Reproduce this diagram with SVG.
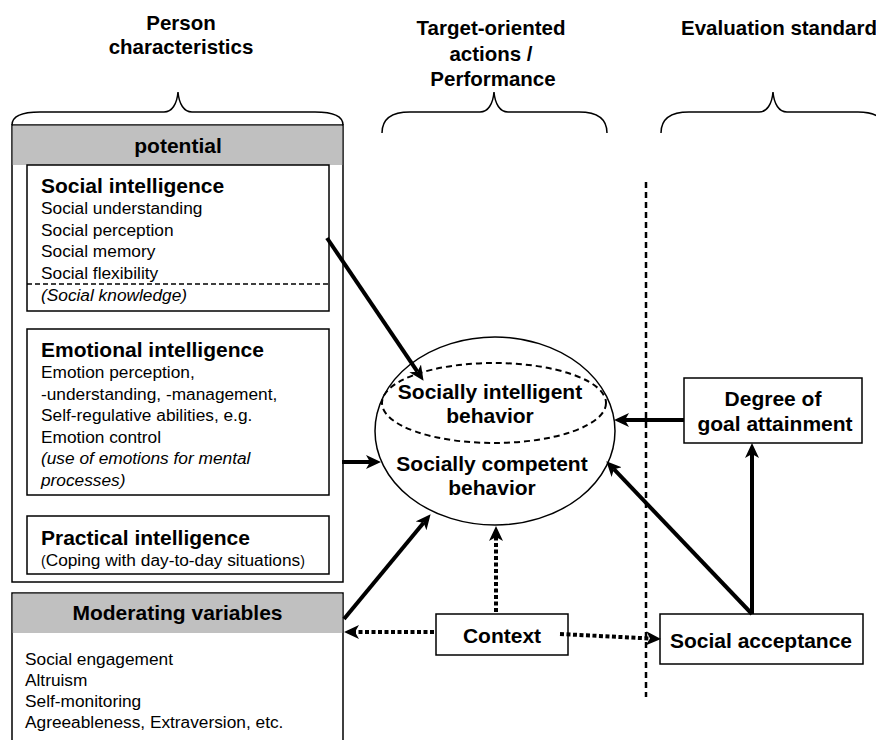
<svg xmlns="http://www.w3.org/2000/svg" width="876" height="740" viewBox="0 0 876 740">
<defs>
<style>
text{font-family:"Liberation Sans",Arial,sans-serif;fill:#000}
.title{font-size:20.5px;font-weight:bold;text-anchor:middle}
.hd{font-size:21px;font-weight:bold}
.hdc{font-size:21px;font-weight:bold;text-anchor:middle}
.bd{font-size:17.3px}
.it{font-style:italic}
.box{fill:#fff;stroke:#000;stroke-width:1.5}
.gray{fill:#c0c0c0;stroke:none}
.brace{fill:none;stroke:#000;stroke-width:1.5}
.arr{fill:none;stroke:#000;stroke-width:4;marker-end:url(#ah)}
.dot{fill:none;stroke:#000;stroke-width:4;stroke-dasharray:4 2.5;marker-end:url(#ah)}
</style>
<marker id="ah" markerUnits="userSpaceOnUse" markerWidth="16" markerHeight="14" viewBox="0 0 16 14" refX="4" refY="7" orient="auto">
<path d="M0,0 L15,7 L0,14 L4,7 z" fill="#000"/>
</marker>
</defs>
<rect width="876" height="740" fill="#fff"/>

<g id="headers">
<text class="title" x="181" y="30">Person</text>
<text class="title" x="181" y="54">characteristics</text>
<text class="title" x="491" y="35">Target-oriented</text>
<text class="title" x="491" y="61">actions /</text>
<text class="title" x="493" y="86">Performance</text>
<text class="title" x="779" y="35">Evaluation standard</text>
<path class="brace" d="M12,125 C12,116 22,112 40,112 L164,112 C172,112 177,104 178,92 C179,104 184,112 192,112 L315,112 C333,112 343,116 343,125"/>
<path class="brace" d="M382,133 C382,118 392,112 410,112 L480,112 C488,112 493,104 494,92 C495,104 500,112 508,112 L579,112 C597,112 607,118 607,133"/>
<path class="brace" d="M661,133 C661,118 671,112 689,112 L759,112 C767,112 772,104 773,92 C774,104 779,112 787,112 L858,112 C876,112 886,118 886,133"/>
</g>

<g id="potential">
<rect class="box" x="12" y="125" width="331" height="457"/>
<rect class="gray" x="12.75" y="125.75" width="329.5" height="39.25"/>
<text class="hdc" x="178" y="153">potential</text>
</g>

<g id="social-intelligence">
<rect class="box" x="27" y="165" width="302" height="146"/>
<line x1="27" y1="284" x2="329" y2="284" stroke="#000" stroke-width="1.5" stroke-dasharray="5 3"/>
<text class="hd" x="41" y="193">Social intelligence</text>
<text class="bd" x="41" y="214">Social understanding</text>
<text class="bd" x="41" y="235.5">Social perception</text>
<text class="bd" x="41" y="257">Social memory</text>
<text class="bd" x="41" y="278.5">Social flexibility</text>
<text class="bd it" x="41" y="301">(Social knowledge)</text>
</g>

<g id="emotional-intelligence">
<rect class="box" x="27" y="329" width="302" height="166"/>
<text class="hd" x="41" y="357">Emotional intelligence</text>
<text class="bd" x="41" y="378">Emotion perception,</text>
<text class="bd" x="41" y="399.5">-understanding, -management,</text>
<text class="bd" x="41" y="421">Self-regulative abilities, e.g.</text>
<text class="bd" x="41" y="442.5">Emotion control</text>
<text class="bd it" x="41" y="464">(use of emotions for mental</text>
<text class="bd it" x="41" y="485.5">processes)</text>
</g>

<g id="practical-intelligence">
<rect class="box" x="27" y="516" width="302" height="58"/>
<text class="hd" x="41" y="545">Practical intelligence</text>
<text class="bd" x="41" y="566"><tspan font-size="14">(</tspan>Coping with day-to-day situations<tspan font-size="14">)</tspan></text>
</g>

<g id="moderating-variables">
<path d="M12,760 L12,593 L343,593 L343,760" fill="#fff" stroke="#000" stroke-width="1.5"/>
<rect class="gray" x="12.75" y="593.75" width="329.5" height="39.25"/>
<text class="hdc" x="177.5" y="620">Moderating variables</text>
<text class="bd" x="25" y="665">Social engagement</text>
<text class="bd" x="25" y="686">Altruism</text>
<text class="bd" x="25" y="707">Self-monitoring</text>
<text class="bd" x="25" y="728">Agreeableness, Extraversion, etc.</text>
</g>

<g id="behavior">
<ellipse cx="495" cy="431" rx="120" ry="94" fill="#fff" stroke="#000" stroke-width="1.5"/>
<ellipse cx="494" cy="403" rx="112" ry="40" fill="none" stroke="#000" stroke-width="2" stroke-dasharray="6 4"/>
<text class="hdc" x="490" y="399">Socially intelligent</text>
<text class="hdc" x="490" y="423">behavior</text>
<text class="hdc" x="492" y="471">Socially competent</text>
<text class="hdc" x="492" y="495">behavior</text>
</g>

<g id="context">
<rect class="box" x="436" y="614" width="132" height="41"/>
<text class="hdc" x="502" y="643">Context</text>
</g>

<g id="degree-of-goal-attainment">
<rect class="box" x="684" y="378" width="178" height="65"/>
<text class="hdc" x="773" y="406">Degree of</text>
<text class="hdc" x="775" y="431">goal attainment</text>
</g>

<g id="social-acceptance">
<rect class="box" x="660" y="614" width="203" height="50"/>
<text class="hdc" x="761" y="648">Social acceptance</text>
</g>

<g id="connectors">
<line x1="646" y1="182" x2="646" y2="697" stroke="#000" stroke-width="2.5" stroke-dasharray="6 4"/>
<line class="arr" x1="327" y1="238" x2="417.4" y2="371.7"/>
<line class="arr" x1="342" y1="462" x2="370" y2="462"/>
<line class="arr" x1="344" y1="619" x2="423.6" y2="522.7"/>
<line class="dot" x1="496" y1="612" x2="496" y2="537"/>
<line class="dot" x1="434" y1="632" x2="355" y2="632"/>
<line class="dot" x1="560" y1="634" x2="650" y2="638.5"/>
<line class="arr" x1="684" y1="420" x2="625" y2="420"/>
<line class="arr" x1="752" y1="614" x2="613.9" y2="469.2"/>
<line class="arr" x1="752" y1="614" x2="752" y2="454"/>
</g>
</svg>
